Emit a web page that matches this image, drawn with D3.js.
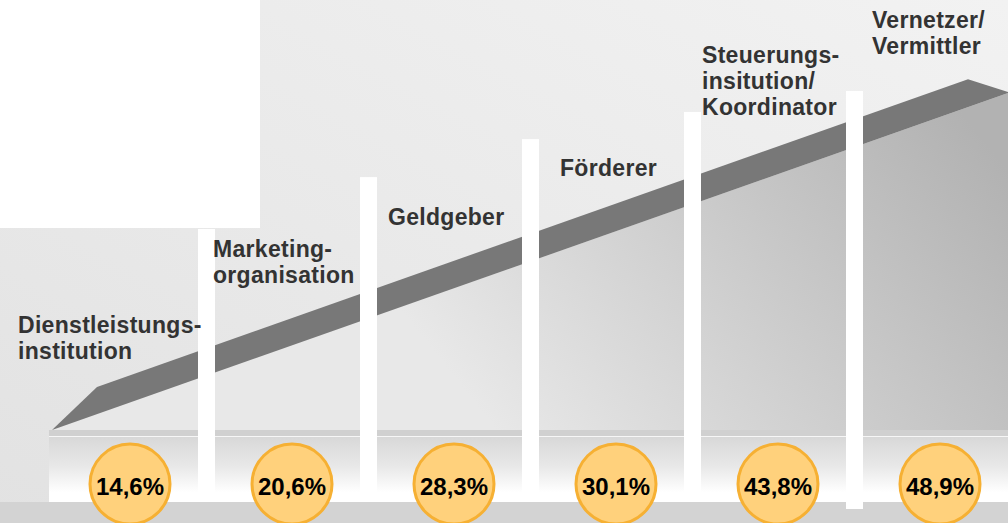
<!DOCTYPE html>
<html>
<head>
<meta charset="utf-8">
<script src="https://cdn.jsdelivr.net/npm/d3@7"></script>
<style>
  html, body { margin: 0; padding: 0; background: #e8e8e8; }
  svg { display: block; }
  .label { font-family: "Liberation Sans", Arial, sans-serif; font-weight: bold; font-size: 23px; fill: #333333; letter-spacing: 0.3px; }
  .wert { font-family: "Liberation Sans", Arial, sans-serif; font-weight: bold; font-size: 24px; fill: #000; }
</style>
</head>
<body>
<div id="chart"></div>
<script>
// Rollen (Kategorien) von links nach rechts
var kategorien = [
  "Dienstleistungs-|institution",
  "Marketing-|organisation",
  "Geldgeber",
  "Förderer",
  "Steuerungs-|insitution/|Koordinator",
  "Vernetzer/|Vermittler"
];
// Anteile in Prozent
var anteile = [14.6, 20.6, 28.3, 30.1, 43.8, 48.9];
// Hoehe der weissen Trennstufen (relativ, 0-100)
var stufen = [59.3, 74.6, 85.8, 93.8, 100];

var width = 1008, height = 523;
var floorY = 430;

var svg = d3.select("#chart").append("svg")
  .attr("width", width)
  .attr("height", height);

var defs = svg.append("defs");

//background gradient, lighter towards top right
var bg = defs.append("linearGradient").attr("id", "bg")
  .attr("x1", 0).attr("y1", 1).attr("x2", 1).attr("y2", 0);
bg.append("stop").attr("offset", "0%").attr("stop-color", "#e2e2e2");
bg.append("stop").attr("offset", "100%").attr("stop-color", "#f2f2f2");

//ramp under the dark wedge
var ramp = defs.append("linearGradient").attr("id", "ramp")
  .attr("gradientUnits", "userSpaceOnUse")
  .attr("x1", 960).attr("y1", 110).attr("x2", 520).attr("y2", 460);
ramp.append("stop").attr("offset", "0%").attr("stop-color", "#b2b2b2");
ramp.append("stop").attr("offset", "100%").attr("stop-color", "#e8e8e8");

//floor band gradient
var band = defs.append("linearGradient").attr("id", "band")
  .attr("x1", 0).attr("y1", 0).attr("x2", 0).attr("y2", 1);
band.append("stop").attr("offset", "0%").attr("stop-color", "#d8d8d8");
band.append("stop").attr("offset", "45%").attr("stop-color", "#e8e8e8");
band.append("stop").attr("offset", "85%").attr("stop-color", "#ffffff");
band.append("stop").attr("offset", "100%").attr("stop-color", "#ffffff");

// scales
var x = d3.scaleBand()
  .domain(d3.range(kategorien.length))
  .range([49, 49 + 162 * kategorien.length])
  .paddingInner(0).paddingOuter(0);

var y = d3.scaleLinear().domain([0, 100]).range([floorY, 91]);

svg.append("rect").attr("width", width).attr("height", height).attr("fill", "url(#bg)");
svg.append("rect").attr("width", 260).attr("height", 228).attr("fill", "#ffffff");

// rising wedge: ramp + dark strip
var lineLow = function (px) { return floorY - (px - 52) * 0.3525; };
svg.append("path")
  .attr("d", "M52," + floorY + "L" + width + "," + lineLow(width) + "L" + width + "," + floorY + "Z")
  .attr("fill", "url(#ramp)");

svg.append("path")
  .attr("d", d3.line()([
    [52, floorY], [97, y(12.7)], [968, y(103.5)], [width, y(99.7)],
    [width, lineLow(width)], [52, floorY]
  ]) + "Z")
  .attr("fill", "#787878");

// floor band
svg.append("rect").attr("x", 49).attr("y", floorY).attr("width", width - 49).attr("height", 6).attr("fill", "#d0d0d0");
svg.append("rect").attr("x", 49).attr("y", 436).attr("width", width - 49).attr("height", 1.5).attr("fill", "#f6f6f6");
svg.append("rect").attr("x", 49).attr("y", 437).attr("width", width - 49).attr("height", 65).attr("fill", "url(#band)");
svg.append("rect").attr("x", 0).attr("y", 502).attr("width", width).attr("height", height - 502).attr("fill", "#d3d3d3");

// white separators
svg.selectAll("rect.trenner")
  .data(stufen)
  .enter().append("rect")
  .attr("class", "trenner")
  .attr("x", function (d, i) { return x(i) + 149; })
  .attr("y", function (d) { return y(d); })
  .attr("width", 17)
  .attr("height", function (d, i) { return (i === stufen.length - 1 ? 509 : 493) - y(d); })
  .attr("fill", "#ffffff");

// labels
var labelLage = [[-31, 333], [2, 257], [15, 225], [25, 176], [5, 63], [13, 28]];
var lineH = 26;
svg.selectAll("text.label")
  .data(kategorien)
  .enter().append("text")
  .attr("class", "label")
  .each(function (d, i) {
    var t = d3.select(this);
    d.split("|").forEach(function (zeile, j) {
      t.append("tspan")
        .attr("x", x(i) + labelLage[i][0])
        .attr("y", labelLage[i][1] + j * lineH)
        .text(zeile);
    });
  });

// percentage bubbles
var de = d3.formatLocale({ decimal: ",", thousands: ".", grouping: [3], currency: ["", " €"] });
var fmt = de.format(".1f");

var bubble = svg.selectAll("g.bubble")
  .data(anteile)
  .enter().append("g")
  .attr("class", "bubble")
  .attr("transform", function (d, i) { return "translate(" + (x(i) + x.bandwidth() / 2) + ",484)"; });

bubble.append("circle")
  .attr("r", 40)
  .attr("fill", "#ffd17c")
  .attr("stroke", "#f6b033")
  .attr("stroke-width", 3);

bubble.append("text")
  .attr("class", "wert")
  .attr("text-anchor", "middle")
  .attr("y", 11)
  .text(function (d) { return fmt(d) + "%"; });
</script>
</body>
</html>
